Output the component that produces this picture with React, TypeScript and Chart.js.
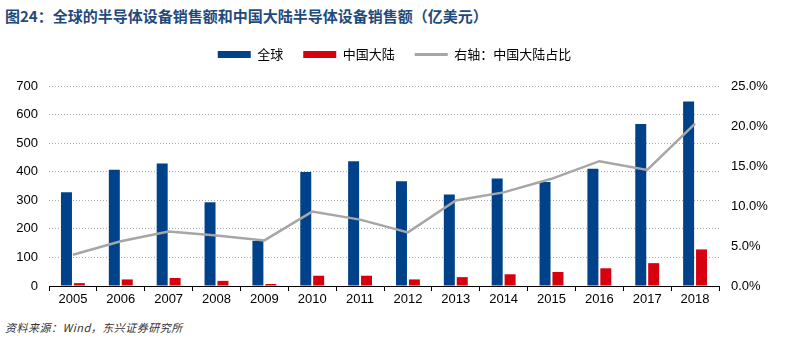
import React, { useEffect, useRef } from "react";
import { Chart, registerables } from "chart.js";

Chart.register(...registerables);

const years = ["2005", "2006", "2007", "2008", "2009", "2010", "2011", "2012", "2013", "2014", "2015", "2016", "2017", "2018"];
const globalSales = [328, 407, 429, 293, 158, 399, 437, 367, 320, 376, 364, 410, 567, 646];
const chinaSales = [10, 23, 28, 18, 7, 36, 36, 23, 31, 41, 49, 62, 80, 128];
const chinaShare = [3.9, 5.6, 6.8, 6.3, 5.7, 9.3, 8.3, 6.7, 10.7, 11.7, 13.4, 15.6, 14.5, 20.3];

const leftTicks = [0, 100, 200, 300, 400, 500, 600, 700];
const rightTicks = [0, 5, 10, 15, 20, 25];

const seriesNames = ["全球", "中国大陆", "右轴：中国大陆占比"];
const titleText = "图24：全球的半导体设备销售额和中国大陆半导体设备销售额（亿美元）";
const sourceText = "资料来源：Wind，东兴证券研究所";

const BLUE = "#00428A";
const RED = "#D7000F";
const GRAY = "#A6A6A6";

const legendGap = {
  id: "legendGap",
  beforeInit(chart: any) {
    const lg = chart.legend;
    if (!lg) return;
    const orig = lg.fit;
    lg.fit = function () {
      orig.call(this);
      this.height += 15;
    };
  },
};

export default function App() {
  const ref = useRef<HTMLCanvasElement | null>(null);

  useEffect(() => {
    if (!ref.current) return;
    const tickFont = { family: "'Liberation Sans', Arial, sans-serif", size: 13 };
    const chart = new Chart(ref.current, {
      type: "bar",
      data: {
        labels: years,
        datasets: [
          {
            type: "bar",
            label: seriesNames[0],
            data: globalSales,
            backgroundColor: BLUE,
            yAxisID: "y",
            order: 2,
          },
          {
            type: "bar",
            label: seriesNames[1],
            data: chinaSales,
            backgroundColor: RED,
            yAxisID: "y",
            order: 2,
          },
          {
            type: "line",
            label: seriesNames[2],
            data: chinaShare,
            borderColor: GRAY,
            backgroundColor: GRAY,
            borderWidth: 2.5,
            pointRadius: 0,
            tension: 0,
            yAxisID: "y1",
            order: 1,
          },
        ] as any,
      },
      plugins: [legendGap],
      options: {
        animation: false,
        responsive: false,
        devicePixelRatio: 1,
        datasets: {
          bar: { categoryPercentage: 0.54, barPercentage: 0.85 },
        },
        layout: { padding: { top: 4, left: 0, right: 0, bottom: 0 } },
        plugins: {
          tooltip: { enabled: false },
          legend: {
            display: true,
            position: "top",
            labels: {
              font: { family: "'Noto Sans CJK SC', sans-serif", size: 13 },
              color: "#000",
              usePointStyle: true,
              pointStyleWidth: 33,
              boxWidth: 33,
              boxHeight: 7,
              padding: 20,
              generateLabels: (c: any) =>
                c.data.datasets.map((ds: any, i: number) => ({
                  text: ds.label,
                  fillStyle: ds.type === "line" ? ds.borderColor : ds.backgroundColor,
                  strokeStyle: ds.type === "line" ? ds.borderColor : ds.backgroundColor,
                  lineWidth: ds.type === "line" ? 3 : 0,
                  pointStyle: ds.type === "line" ? "line" : "rect",
                  hidden: false,
                  datasetIndex: i,
                  fontColor: "#000",
                })),
            },
          },
        },
        scales: {
          x: {
            offset: true,
            grid: {
              display: true,
              offset: true,
              drawOnChartArea: false,
              drawTicks: true,
              tickLength: 5,
              color: "#000",
            },
            border: { display: true, color: "#000", width: 1 },
            ticks: { font: tickFont, color: "#000", padding: 1, maxRotation: 0 },
            afterFit: (s: any) => {
              s.height = 22;
            },
          },
          y: {
            position: "left",
            min: 0,
            max: 700,
            afterBuildTicks: (s: any) => {
              s.ticks = leftTicks.map((v) => ({ value: v }));
            },
            grid: {
              color: "#B0B0B0",
              lineWidth: 1,
              drawTicks: false,
            },
            border: { display: false, dash: [1, 2] },
            ticks: { font: tickFont, color: "#000", padding: 11 },
            afterFit: (s: any) => {
              s.width = 49;
            },
          },
          y1: {
            position: "right",
            min: 0,
            max: 25,
            afterBuildTicks: (s: any) => {
              s.ticks = rightTicks.map((v) => ({ value: v }));
            },
            grid: { display: false, drawTicks: false },
            border: { display: false },
            ticks: {
              font: tickFont,
              color: "#000",
              padding: 12,
              callback: (v: any) => Number(v).toFixed(1) + "%",
            },
            afterFit: (s: any) => {
              s.width = 70;
            },
          },
        },
      } as any,
    });
    return () => chart.destroy();
  }, []);

  return (
    <div style={{ position: "fixed", left: 0, top: 0, width: 789, height: 346, background: "#fff" }}>
      <div
        style={{
          position: "absolute",
          left: 5,
          top: 6,
          fontFamily: "'Noto Sans CJK SC', 'Liberation Sans', sans-serif",
          fontWeight: 700,
          fontSize: 15,
          color: "#1F4A7C",
          whiteSpace: "nowrap",
          lineHeight: "20px",
        }}
      >
        {titleText}
      </div>
      <canvas
        ref={ref}
        width={789}
        height={284}
        style={{ position: "absolute", left: 0, top: 24, width: 789, height: 284 }}
      />
      <div
        style={{
          position: "absolute",
          left: 5,
          top: 319,
          fontFamily: "'Noto Sans CJK SC', 'Liberation Sans', sans-serif",
          fontStyle: "italic",
          fontSize: 11,
          letterSpacing: 0.5,
          color: "#333",
          whiteSpace: "nowrap",
          lineHeight: "16px",
        }}
      >
        {sourceText}
      </div>
    </div>
  );
}
